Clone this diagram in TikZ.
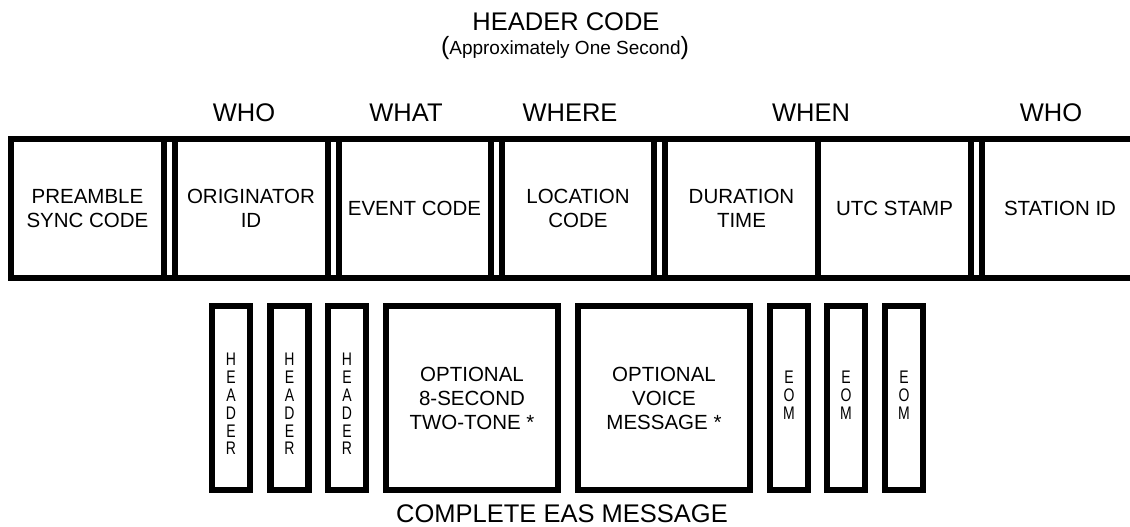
\documentclass[tikz,border=0pt]{standalone}
\usepackage{fontspec}
\setmainfont{Liberation Sans}
\usetikzlibrary{positioning}

\newcommand{\tallstack}[1]{\scalebox{1}[1.3]{\begin{tabular}{@{}c@{}}#1\end{tabular}}}

\begin{document}
\begin{tikzpicture}[x=1pt, y=-1pt, node distance=163.5pt,
    field/.style={draw, line width=6pt, minimum width=153pt, minimum height=139pt,
        inner sep=0pt, outer sep=0pt, align=center, font=\fontsize{20.5}{24}\selectfont},
    slot/.style={draw, line width=6.5pt, minimum width=38pt, minimum height=184pt,
        inner sep=0pt, align=center, font=\fontsize{14}{13.5}\selectfont},
    block/.style={slot, minimum width=172pt, font=\fontsize{20.5}{24}\selectfont},
    heading/.style={anchor=base, inner sep=0pt, font=\fontsize{25.5}{30}\selectfont}]
                \clip (0,0) rectangle (1130,527);
                % header code fields
                \node[field] (1) at (87.5,208.5) {PREAMBLE\\SYNC CODE};
                \node[field, right of=1] (2) {ORIGINATOR\\ID};
                \node[field, right of=2, minimum width=152pt] (3) {EVENT CODE};
                \node[field, right of=3, minimum width=152pt] (4) {LOCATION\\CODE};
                \node[field, right of=4] (5) {DURATION\\TIME};
                \node[field, right of=5, node distance=153pt] (6) {UTC STAMP};
                \node[field, right of=6, node distance=165.5pt, minimum width=156pt] (7) {STATION ID};
                \draw[line width=6pt, line cap=rect] (1.north west) -- (7.north east);
                \draw[line width=6pt, line cap=rect] (1.south west) -- (7.south east);
                % complete message
                \node[slot] (8) at (231,398) {\tallstack{{}\\H\\E\\A\\D\\E\\R}};
                \node[slot, right of=8, node distance=58.5pt] (9) {\tallstack{{}\\H\\E\\A\\D\\E\\R}};
                \node[slot, right of=9, node distance=57.5pt] (10) {\tallstack{{}\\H\\E\\A\\D\\E\\R}};
                \node[block, right of=10, node distance=125pt] (11) {OPTIONAL\\8-SECOND\hspace*{20pt}\\TWO-TONE *};
                \node[block, right of=11, node distance=192pt] (12) {OPTIONAL\\VOICE\\MESSAGE *};
                \node[slot, right of=12, node distance=125pt] (13) {\tallstack{E\\O\\M}};
                \node[slot, right of=13, node distance=57pt] (14) {\tallstack{E\\O\\M}};
                \node[slot, right of=14, node distance=58pt] (15) {\tallstack{E\\O\\M}};
                % headings
                \node[heading] (title) at (566,31) {HEADER CODE};
                \node[heading, font=\fontsize{19}{23}\selectfont] (sub) at (565,55)
                    {{\fontsize{25}{28}\selectfont(}Approximately One Second{\fontsize{25}{28}\selectfont)}};
                \node[heading] (who1) at (244,121.5) {WHO};
                \node[heading] (what) at (406,121.5) {WHAT};
                \node[heading] (where) at (570,121.5) {WHERE};
                \node[heading] (when) at (811,121.5) {WHEN};
                \node[heading] (who2) at (1051,121.5) {WHO};
                \node[heading] (eas) at (562,522) {COMPLETE EAS MESSAGE};
            \end{tikzpicture}
\end{document}
